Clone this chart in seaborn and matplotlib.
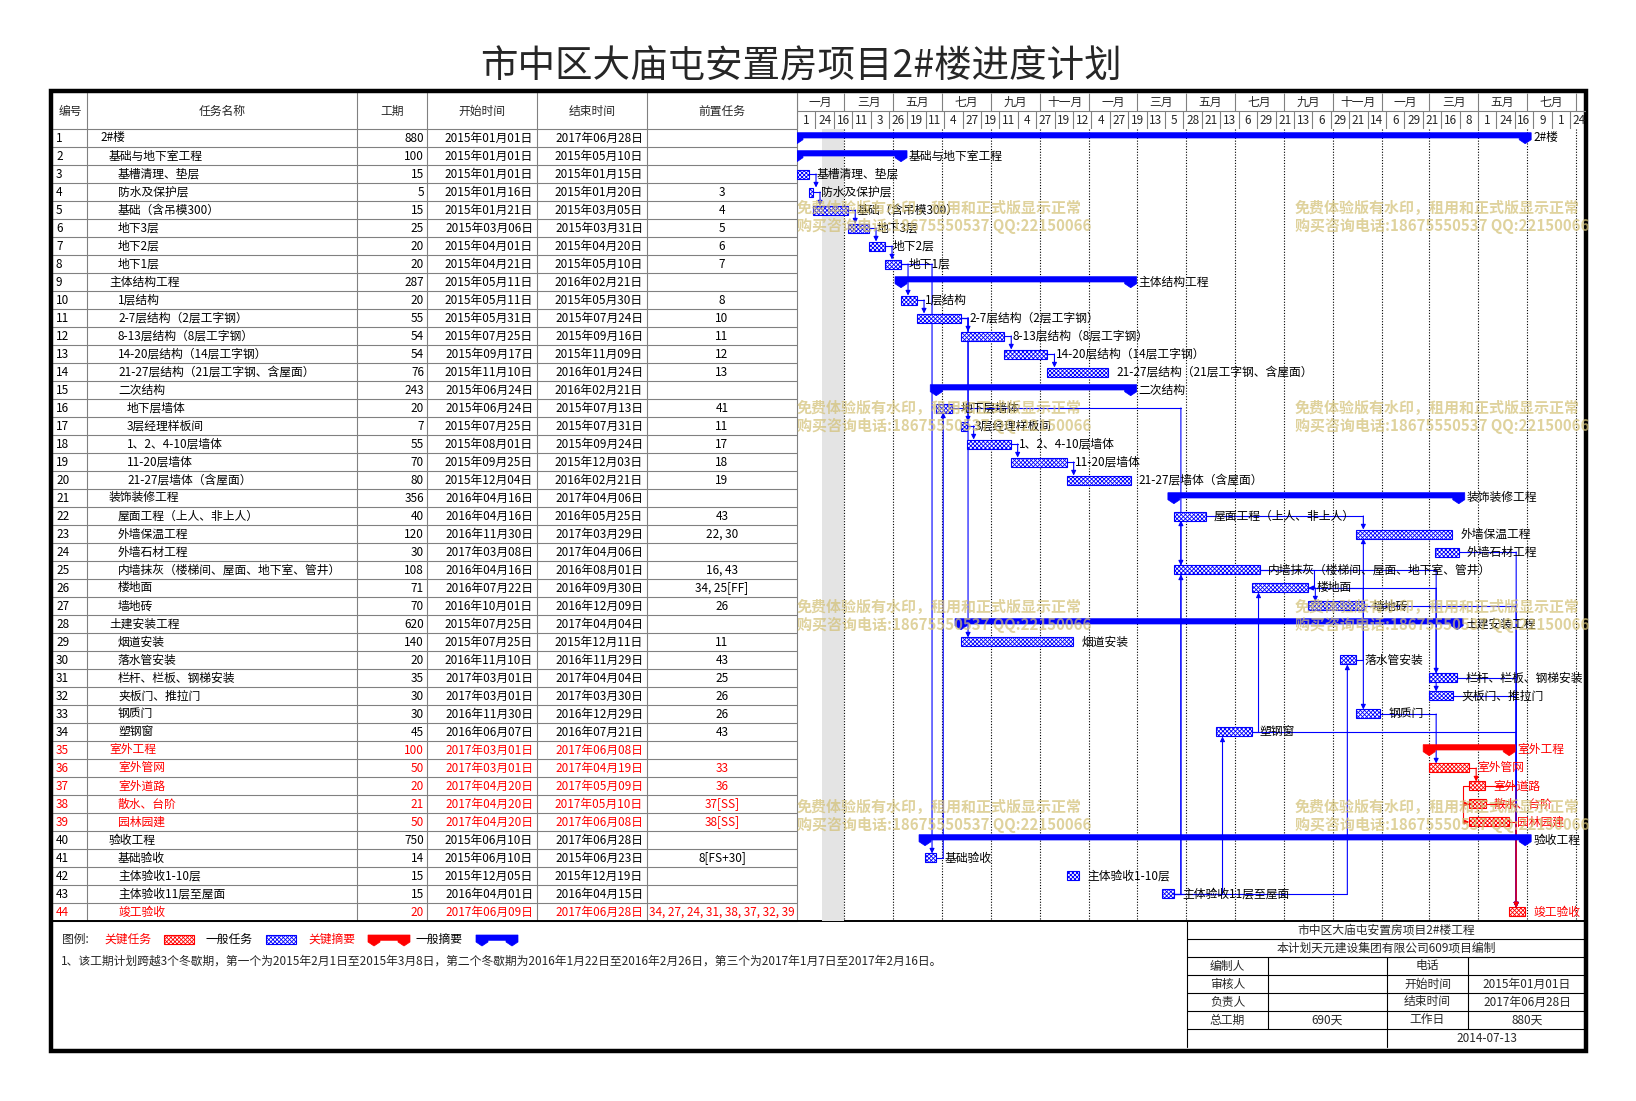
import pandas as pd
import matplotlib
matplotlib.use('Agg')
import matplotlib.pyplot as plt
import matplotlib.dates as mdates
from matplotlib.patches import Rectangle, Polygon
import seaborn as sns

sns.set_theme(style='white')
plt.rcParams['font.family'] = ['Noto Sans CJK SC', 'DejaVu Sans']
plt.rcParams['axes.unicode_minus'] = False
plt.rcParams['hatch.linewidth'] = 0.6

# ---------------- 数据 ----------------
title = '市中区大庙屯安置房项目2#楼进度计划'
headers = ['编号', '任务名称', '工期', '开始时间', '结束时间', '前置任务']

task_names = [
    '2#楼', '基础与地下室工程', '基槽清理、垫层', '防水及保护层', '基础（含吊模300）',
    '地下3层', '地下2层', '地下1层', '主体结构工程', '1层结构',
    '2-7层结构（2层工字钢）', '8-13层结构（8层工字钢）', '14-20层结构（14层工字钢）',
    '21-27层结构（21层工字钢、含屋面）', '二次结构', '地下层墙体', '3层经理样板间',
    '1、2、4-10层墙体', '11-20层墙体', '21-27层墙体（含屋面）', '装饰装修工程',
    '屋面工程（上人、非上人）', '外墙保温工程', '外墙石材工程',
    '内墙抹灰（楼梯间、屋面、地下室、管井）', '楼地面', '墙地砖', '土建安装工程',
    '烟道安装', '落水管安装', '栏杆、栏板、钢梯安装', '夹板门、推拉门', '钢质门', '塑钢窗',
    '室外工程', '室外管网', '室外道路', '散水、台阶', '园林园建', '验收工程', '基础验收',
    '主体验收1-10层', '主体验收11层至屋面', '竣工验收']
levels = [0, 1, 2, 2, 2, 2, 2, 2, 1, 2, 2, 2, 2, 2, 2, 3, 3, 3, 3, 3, 1, 2,
          2, 2, 2, 2, 2, 1, 2, 2, 2, 2, 2, 2, 1, 2, 2, 2, 2, 1, 2, 2, 2, 2]
durations = [880, 100, 15, 5, 15, 25, 20, 20, 287, 20, 55, 54, 54, 76, 243, 20,
             7, 55, 70, 80, 356, 40, 120, 30, 108, 71, 70, 620, 140, 20, 35, 30,
             30, 45, 100, 50, 20, 21, 50, 750, 14, 15, 15, 20]
starts = ['2015-01-01', '2015-01-01', '2015-01-01', '2015-01-16', '2015-01-21',
          '2015-03-06', '2015-04-01', '2015-04-21', '2015-05-11', '2015-05-11',
          '2015-05-31', '2015-07-25', '2015-09-17', '2015-11-10', '2015-06-24',
          '2015-06-24', '2015-07-25', '2015-08-01', '2015-09-25', '2015-12-04',
          '2016-04-16', '2016-04-16', '2016-11-30', '2017-03-08', '2016-04-16',
          '2016-07-22', '2016-10-01', '2015-07-25', '2015-07-25', '2016-11-10',
          '2017-03-01', '2017-03-01', '2016-11-30', '2016-06-07', '2017-03-01',
          '2017-03-01', '2017-04-20', '2017-04-20', '2017-04-20', '2015-06-10',
          '2015-06-10', '2015-12-05', '2016-04-01', '2017-06-09']
ends = ['2017-06-28', '2015-05-10', '2015-01-15', '2015-01-20', '2015-03-05',
        '2015-03-31', '2015-04-20', '2015-05-10', '2016-02-21', '2015-05-30',
        '2015-07-24', '2015-09-16', '2015-11-09', '2016-01-24', '2016-02-21',
        '2015-07-13', '2015-07-31', '2015-09-24', '2015-12-03', '2016-02-21',
        '2017-04-06', '2016-05-25', '2017-03-29', '2017-04-06', '2016-08-01',
        '2016-09-30', '2016-12-09', '2017-04-04', '2015-12-11', '2016-11-29',
        '2017-04-04', '2017-03-30', '2016-12-29', '2016-07-21', '2017-06-08',
        '2017-04-19', '2017-05-09', '2017-05-10', '2017-06-08', '2017-06-28',
        '2015-06-23', '2015-12-19', '2016-04-15', '2017-06-28']
preds = ['', '', '', '3', '4', '5', '6', '7', '', '8',
         '10', '11', '12', '13', '', '41', '11', '17', '18', '19',
         '', '43', '22, 30', '', '16, 43', '34, 25[FF]', '26', '', '11', '43',
         '25', '26', '26', '43', '', '33', '36', '37[SS]', '38[SS]', '',
         '8[FS+30]', '', '', '34, 27, 24, 31, 38, 37, 32, 39']
summary_rows = [1, 2, 9, 15, 21, 28, 35, 40]
critical_rows = [35, 36, 37, 38, 39, 44]

view_start, view_end = '2015-01-01', '2017-09-13'
month_labels = ['一月', '三月', '五月', '七月', '九月', '十一月'] * 3
tick_step = '23D'
shaded_periods = [('2015-02-01', '2015-03-01')]

watermark = ['免费体验版有水印，租用和正式版显示正常', '购买咨询电话:18675550537 QQ:22150066']

# (文字, 文字颜色, 图形颜色, 类型)
legend_items = [('关键任务', '#ff0000', '#ff0000', 'task'),
                ('一般任务', 'black', '#0000ff', 'task'),
                ('关键摘要', '#ff0000', '#ff0000', 'summary'),
                ('一般摘要', 'black', '#0000ff', 'summary')]
note = ('1、该工期计划跨越3个冬歇期，第一个为2015年2月1日至2015年3月8日，第二个冬歇期为'
        '2016年1月22日至2016年2月26日，第三个为2017年1月7日至2017年2月16日。')

info_title = '市中区大庙屯安置房项目2#楼工程'
info_org = '本计划天元建设集团有限公司609项目编制'
info_rows = [['编制人', '', '电话', ''],
             ['审核人', '', '开始时间', '2015年01月01日'],
             ['负责人', '', '结束时间', '2017年06月28日'],
             ['总工期', '690天', '工作日', '880天']]
info_date = '2014-07-13'

# ---------------- 样式 / 版面 ----------------
BLUE = '#0000ff'
RED = '#ff0000'
GRID = '#808080'
FS = 8.5
W, H = 1636, 1101

col_x = [53, 87, 357, 427, 537, 647, 797]
chart_r = 1586
head_top, head_mid, head_bot = 93, 111, 129
row_h = 18
n = len(task_names)
table_bot = head_bot + row_h * n
info_x = [1187, 1268, 1387, 1468, chart_r]


def box(x0, y0, x1, y1):
    return [x0 / W, 1 - y1 / H, (x1 - x0) / W, (y1 - y0) / H]


def fmt_date(s):
    t = pd.Timestamp(s)
    return f'{t.year}年{t.month:02d}月{t.day:02d}日'


def summary_shape(x0, x1, ytop, ux, uy):
    w = 6 * ux
    yb, ys, yt = ytop + 5.3 * uy, ytop + 7 * uy, ytop + 11 * uy
    return [(x0 - w, ytop), (x1 + w, ytop), (x1 + w, ys), (x1, yt), (x1 - w, ys),
            (x1 - w, yb), (x0 + w, yb), (x0 + w, ys), (x0, yt), (x0 - w, ys)]


fig = plt.figure(figsize=(W / 100, H / 100), dpi=100)

# 背景表格
ax = fig.add_axes([0, 0, 1, 1])
ax.set_xlim(0, W)
ax.set_ylim(H, 0)
ax.axis('off')

ax.text(801, 67, title, ha='center', va='center', fontsize=27)

for i in range(n + 1):
    y = head_bot + i * row_h
    ax.plot([col_x[0], col_x[-1]], [y, y], color=GRID, lw=0.8)
for x in col_x[1:]:
    ax.plot([x, x], [head_top, table_bot], color=GRID, lw=0.8)
ax.plot([col_x[0], chart_r], [table_bot, table_bot], color='black', lw=1.4)

for j, h in enumerate(headers):
    ax.text((col_x[j] + col_x[j + 1]) / 2, (head_top + head_bot) / 2, h,
            ha='center', va='center', fontsize=FS)

for i in range(n):
    yc = head_bot + (i + 0.5) * row_h
    c = RED if (i + 1) in critical_rows else 'black'
    kw = dict(va='center', fontsize=FS, color=c)
    ax.text(56, yc, str(i + 1), ha='left', **kw)
    ax.text(100 + 9 * levels[i], yc, task_names[i], ha='left', **kw)
    ax.text(col_x[3] - 3, yc, str(durations[i]), ha='right', **kw)
    ax.text(col_x[4] - 4, yc, fmt_date(starts[i]), ha='right', **kw)
    ax.text(col_x[5] - 4, yc, fmt_date(ends[i]), ha='right', **kw)
    ax.text((col_x[5] + col_x[6]) / 2, yc, preds[i], ha='center', **kw)

# 图例
ly = 939
lx = 62
ax.text(lx, ly, '图例:', ha='left', va='center', fontsize=FS)
x = lx + 42
for label, tcolor, color, kind in legend_items:
    ax.text(x, ly, label, ha='left', va='center', fontsize=FS, color=tcolor)
    x += 60
    if kind == 'task':
        ax.add_patch(Rectangle((x, ly - 4.5), 30, 9, facecolor='white', edgecolor=color,
                               hatch='xxxxxxxx', lw=0.8))
        x += 42
    else:
        ax.add_patch(Polygon(summary_shape(x + 6, x + 36, ly - 4, 1, 1), closed=True,
                             facecolor=color, edgecolor=color, lw=0.5))
        x += 48
ax.text(61, 961, note, ha='left', va='center', fontsize=FS)

# 右下角信息表
iy = [table_bot + k * row_h for k in range(8)]
ax.plot([info_x[0], info_x[0]], [iy[0], iy[7]], color='black', lw=0.8)
for k in range(1, 7):
    ax.plot([info_x[0], chart_r], [iy[k], iy[k]], color='black', lw=0.8)
for x in info_x[1:4]:
    ax.plot([x, x], [iy[2], iy[6]], color='black', lw=0.8)
ax.plot([info_x[2], info_x[2]], [iy[6], iy[7]], color='black', lw=0.8)
xm = (info_x[0] + chart_r) / 2
ax.text(xm, (iy[0] + iy[1]) / 2, info_title, ha='center', va='center', fontsize=FS)
ax.text(xm, (iy[1] + iy[2]) / 2, info_org, ha='center', va='center', fontsize=FS)
for k, row in enumerate(info_rows):
    for j, t in enumerate(row):
        ax.text((info_x[j] + info_x[j + 1]) / 2, (iy[k + 2] + iy[k + 3]) / 2, t,
                ha='center', va='center', fontsize=FS)
ax.text((info_x[2] + chart_r) / 2, (iy[6] + iy[7]) / 2, info_date,
        ha='center', va='center', fontsize=FS)

ax.add_patch(Rectangle((50.5, 91.3), chart_r - 50.5, 1051 - 91.3, fill=False,
                       edgecolor='black', lw=3.2, zorder=5))

# 时间刻度表头
xl, xr = mdates.date2num(pd.Timestamp(view_start)), mdates.date2num(pd.Timestamp(view_end))
dpp = (xr - xl) / (chart_r - col_x[-1])

ax_h = fig.add_axes(box(col_x[-1], head_top, chart_r, head_bot))
ax_h.set_xlim(xl, xr)
ax_h.set_ylim(2, 0)
ax_h.axis('off')
month_bounds = mdates.date2num(pd.date_range(view_start, periods=len(month_labels) + 1, freq='2MS'))
tick_dates = mdates.date2num(pd.date_range(view_start, view_end, freq=tick_step))
ax_h.axhline(1, color=GRID, lw=0.8)
ax_h.vlines(month_bounds, 0, 1, color=GRID, lw=0.8)
ax_h.vlines(tick_dates, 1, 2, color=GRID, lw=0.8)
for k, lab in enumerate(month_labels):
    xc = (month_bounds[k] + month_bounds[k + 1]) / 2
    if xc < xr:
        ax_h.text(xc, 0.5, lab, ha='center', va='center', fontsize=FS, clip_on=True)
step = pd.Timedelta(tick_step).days
for t in tick_dates:
    ax_h.text(t + step / 2, 1.5, str(mdates.num2date(t).day), ha='center', va='center',
              fontsize=FS, clip_on=True)

# 甘特图
ax_g = fig.add_axes(box(col_x[-1], head_bot, chart_r, table_bot))
ax_g.set_xlim(xl, xr)
ax_g.set_ylim(n + 0.5, 0.5)
ax_g.axis('off')
ax_g.patch.set_alpha(0)

for a, b in shaded_periods:
    ax_g.axvspan(mdates.date2num(pd.Timestamp(a)), mdates.date2num(pd.Timestamp(b)),
                 facecolor='#e4e4e4', edgecolor='none', zorder=0)
ax_g.vlines(month_bounds[1:], 0.5, n + 0.5, colors='black', lw=0.8,
            linestyles=(0, (1, 1.5)), zorder=0.5)

d_start = mdates.date2num(pd.to_datetime(starts))
d_end = mdates.date2num(pd.to_datetime(ends)) + 1
rows = list(range(1, n + 1))
uy = 1 / row_h

for r in rows:
    i = r - 1
    c = RED if r in critical_rows else BLUE
    if r in summary_rows:
        ax_g.add_patch(Polygon(summary_shape(d_start[i], d_end[i], r - 0.5 + 3.7 * uy, dpp, uy),
                               closed=True, facecolor=c, edgecolor=c, lw=0.5, zorder=3))
    else:
        ax_g.barh(r, d_end[i] - d_start[i], left=d_start[i], height=0.5, color='white',
                  edgecolor=c, hatch='xxxxxxxx', lw=0.8, zorder=3)
    ax_g.text(d_end[i] + 8 * dpp, r, task_names[i], ha='left', va='center',
              fontsize=FS, color=RED if r in critical_rows else 'black', zorder=4)


def draw_link(p, s, kind):
    c = RED if (p in critical_rows and s in critical_rows) else BLUE
    ps, pe = d_start[p - 1], d_end[p - 1]
    ss, se = d_start[s - 1], d_end[s - 1]
    arrow = dict(arrowstyle='-|>', color=c, lw=0.8, shrinkA=0, shrinkB=0, mutation_scale=7)
    lk = dict(color=c, lw=0.8, zorder=2)
    if kind == 'SS':
        xk = ps - 6 * dpp
        ax_g.plot([ps, xk, xk], [p, p, s], **lk)
        ax_g.annotate('', xy=(ss, s), xytext=(xk, s), arrowprops=arrow, zorder=2)
    elif kind == 'FF':
        xk = max(pe, se) + 6 * dpp
        ax_g.plot([pe, xk, xk], [p, p, s], **lk)
        ax_g.annotate('', xy=(se, s), xytext=(xk, s), arrowprops=arrow, zorder=2)
    else:
        xk = ss + 7 * dpp
        edge = s - 0.25 if s > p else s + 0.25
        ax_g.plot([pe, xk], [p, p], **lk)
        ax_g.annotate('', xy=(xk, edge), xytext=(xk, p), arrowprops=arrow, zorder=2)


for r in rows:
    for item in preds[r - 1].split(','):
        item = item.strip()
        if not item:
            continue
        p = int(item.split('[')[0])
        kind = 'FS'
        if '[SS' in item:
            kind = 'SS'
        elif '[FF' in item:
            kind = 'FF'
        draw_link(p, r, kind)

# 水印
for wy in [208, 408, 607, 807]:
    for wx in [797, 1295]:
        for k, line in enumerate(watermark):
            fig.text(wx / W, 1 - (wy + 18 * k) / H, line, ha='left', va='center',
                     fontsize=10.8, fontweight='bold', color='#d2c074', alpha=0.7, zorder=10)

fig.savefig('out.png', dpi=100)
